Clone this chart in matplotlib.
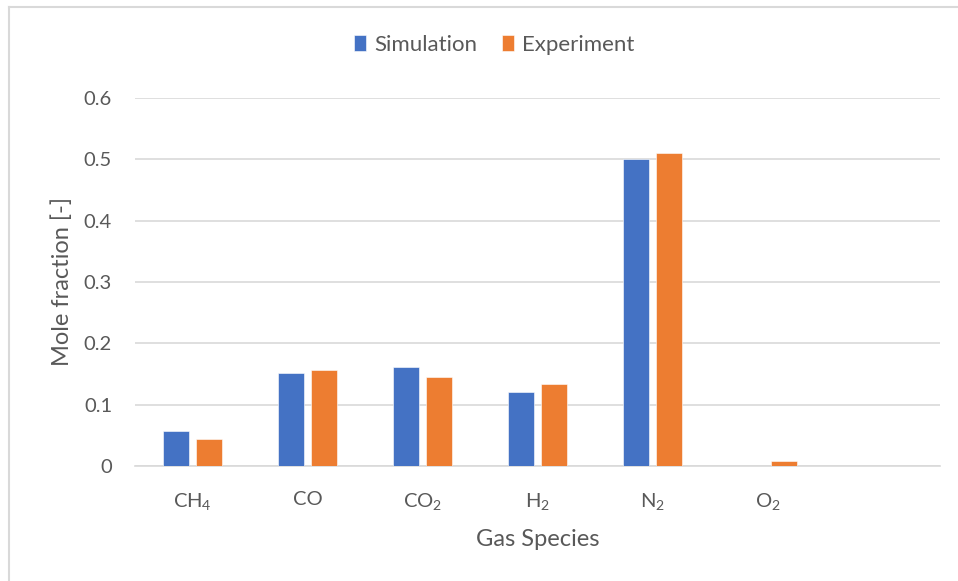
import matplotlib
matplotlib.use("Agg")
import matplotlib.pyplot as plt
import numpy as np
from matplotlib.lines import Line2D

plt.rcParams['font.family'] = ['Lato', 'DejaVu Sans']
plt.rcParams['mathtext.default'] = 'regular'

categories = ['CH$_4$', 'CO', 'CO$_2$', 'H$_2$', 'N$_2$', 'O$_2$', '']
simulation = [0.057, 0.152, 0.161, 0.121, 0.500, 0.0, 0.0]
experiment = [0.044, 0.157, 0.145, 0.133, 0.511, 0.008, 0.0]
yticks = [0, 0.1, 0.2, 0.3, 0.4, 0.5, 0.6]
ytick_labels = ['0', '0.1', '0.2', '0.3', '0.4', '0.5', '0.6']

blue = '#4472C4'
orange = '#ED7D31'
text_c = '#595959'
grid_c = '#D9D9D9'

fig = plt.figure(figsize=(9.58, 5.81), dpi=100)
ax = fig.add_axes([135/958, 1-466/581, (940-135)/958, (466-98)/581])

x = np.arange(len(categories))
w = 0.23
off = 0.144
ax.bar(x - off, simulation, w, color=blue, edgecolor='white', linewidth=0.4, label='Simulation', zorder=3)
ax.bar(x + off, experiment, w, color=orange, edgecolor='white', linewidth=0.4, label='Experiment', zorder=3)

ax.set_xlim(-0.5, len(categories) - 0.5)
ax.set_ylim(0, 0.6)
ax.set_yticks(yticks)
ax.set_yticklabels(ytick_labels)
ax.set_xticks(x)
ax.set_xticklabels(categories)
ax.tick_params(axis='both', length=0, colors=text_c)
ax.tick_params(axis='y', pad=16.5, labelsize=14.5)
ax.tick_params(axis='x', pad=18, labelsize=14.5)
ax.grid(axis='y', color=grid_c, linewidth=1.2, zorder=0)
for s in ['top', 'right', 'left']:
    ax.spines[s].set_visible(False)
ax.spines['bottom'].set_color(grid_c)
ax.spines['bottom'].set_linewidth(1.2)

ax.set_ylabel('Mole fraction [-]', fontsize=17, color=text_c, labelpad=8)
ax.set_xlabel('Gas Species', fontsize=17, color=text_c, labelpad=12)

leg = fig.legend(loc='center', bbox_to_anchor=(494/958, 1-45/581), ncol=2, frameon=False,
                 fontsize=16, handlelength=0.55, handleheight=0.75, handletextpad=0.35,
                 columnspacing=1.1)
for t in leg.get_texts():
    t.set_color(text_c)

# chart border
fig.add_artist(Line2D([8.5/958, 8.5/958], [0, 1-7/581], color='#D9D9D9', linewidth=1.5, transform=fig.transFigure))
fig.add_artist(Line2D([8.5/958, 1], [1-7/581, 1-7/581], color='#D9D9D9', linewidth=1.5, transform=fig.transFigure))

fig.savefig('out.png', dpi=100, facecolor='white')
